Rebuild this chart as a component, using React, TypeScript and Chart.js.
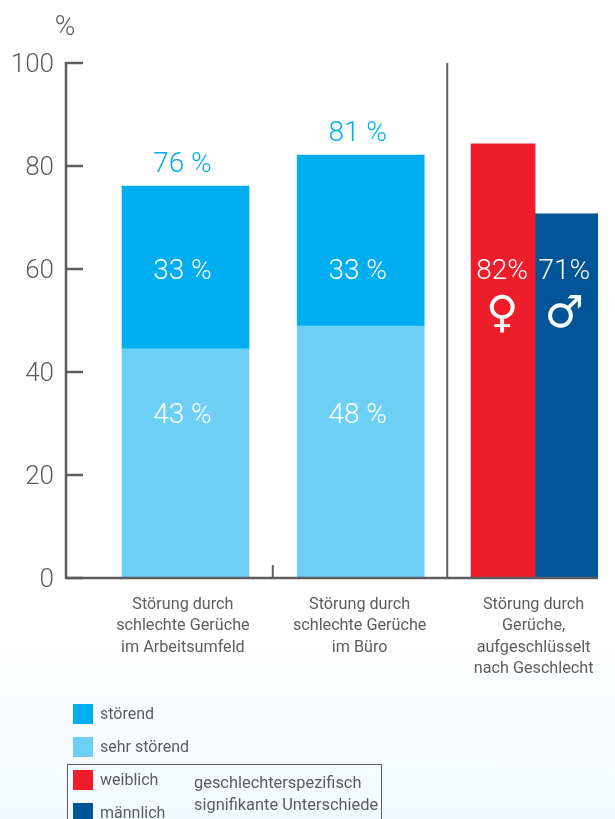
import React, { useEffect, useRef } from "react";
import { Chart, registerables } from "chart.js";

Chart.register(...registerables);

const categories = [
  ["Störung durch", "schlechte Gerüche", "im Arbeitsumfeld"],
  ["Störung durch", "schlechte Gerüche", "im Büro"],
  ["Störung durch", "Gerüche,", "aufgeschlüsselt", "nach Geschlecht"],
];
const labelSlots = [-0.015, 0.998, 1.995];
const stackSlots = [0, 1.004];
const genderSlots = [1.82, 2.177];
const sehrStoerend = [44.5, 48.9];
const stoerend = [31.6, 33.2];
const weiblich = [84.3];
const maennlich = [70.7];
const totalLabels = ["76 %", "81 %"];
const stoerendLabels = ["33 %", "33 %"];
const sehrLabels = ["43 %", "48 %"];
const genderLabels = ["82%", "71%"];
const genderSymbols = ["♀", "♂"];
const yTicks = [0, 20, 40, 60, 80, 100];
const legendNames = ["störend", "sehr störend", "weiblich", "männlich"];
const legendNote = ["geschlechterspezifisch", "signifikante Unterschiede"];
const colors = ["#00aeef", "#6dcff6", "#ef1c29", "#005596"];

const GRAY = "#5d5d5f";
const NUM_FONT = "300 28px Roboto";

const overlay = {
  id: "overlay",
  afterDatasetsDraw(chart: any) {
    const { ctx, scales } = chart;
    const x = scales.x;
    const y = scales.y;
    const base = y.getPixelForValue(0);
    const top = y.getPixelForValue(100);
    ctx.save();
    ctx.strokeStyle = GRAY;
    ctx.lineWidth = 2.5;
    const line = (a: number, b: number, c: number, d: number) => {
      ctx.beginPath();
      ctx.moveTo(a, b);
      ctx.lineTo(c, d);
      ctx.stroke();
    };
    line(x.left, top - 1, x.left, base + 1);
    line(x.left, base, x.right, base);
    yTicks.forEach((t) => line(x.left, y.getPixelForValue(t), x.left + 17, y.getPixelForValue(t)));
    ctx.lineWidth = 2;
    line(x.getPixelForValue(0.5), base - 13, x.getPixelForValue(0.5), base);
    line(x.getPixelForValue(1.5), top, x.getPixelForValue(1.5), base);

    ctx.textAlign = "center";
    ctx.textBaseline = "middle";
    ctx.font = NUM_FONT;
    stackSlots.forEach((slot, i) => {
      const cx = x.getPixelForValue(slot) - 3;
      const total = sehrStoerend[i] + stoerend[i];
      ctx.fillStyle = colors[0];
      ctx.fillText(totalLabels[i], cx, y.getPixelForValue(total) - 21);
      ctx.fillStyle = "#ffffff";
      ctx.fillText(stoerendLabels[i], cx, y.getPixelForValue(59.5));
      ctx.fillText(sehrLabels[i], cx, y.getPixelForValue(31.4));
    });
    genderSlots.forEach((slot, i) => {
      const cx = x.getPixelForValue(slot);
      ctx.fillStyle = "#ffffff";
      ctx.font = NUM_FONT;
      ctx.fillText(genderLabels[i], cx - 1, y.getPixelForValue(59.4));
      ctx.font = "bold 44px 'DejaVu Sans'";
      ctx.fillText(genderSymbols[i], cx - 1, y.getPixelForValue(51));
    });
    ctx.fillStyle = GRAY;
    ctx.font = NUM_FONT;
    ctx.fillText("%", 65, 28);
    ctx.restore();
  },
};

export default function App() {
  const ref = useRef<HTMLCanvasElement>(null);
  useEffect(() => {
    document.body.style.margin = "0";
    document.body.style.overflow = "hidden";
    const chart = new Chart(ref.current as HTMLCanvasElement, {
      type: "bar",
      data: {
        datasets: [
          {
            label: legendNames[1],
            data: stackSlots.map((s, i) => ({ x: s, y: sehrStoerend[i] })),
            backgroundColor: colors[1],
            barThickness: 127,
          },
          {
            label: legendNames[0],
            data: stackSlots.map((s, i) => ({ x: s, y: stoerend[i] })),
            backgroundColor: colors[0],
            barThickness: 127,
          },
          {
            label: legendNames[2],
            data: weiblich.map((v) => ({ x: genderSlots[0], y: v })),
            backgroundColor: colors[2],
            barThickness: 64,
          },
          {
            label: legendNames[3],
            data: maennlich.map((v) => ({ x: genderSlots[1], y: v })),
            backgroundColor: colors[3],
            barThickness: 65,
          },
        ],
      },
      options: {
        animation: false,
        responsive: false,
        layout: { padding: { top: 63, right: 17, left: 0, bottom: 0 } },
        plugins: { legend: { display: false }, tooltip: { enabled: false } },
        scales: {
          x: {
            type: "linear",
            stacked: true,
            offset: false,
            min: -0.685,
            max: 2.364,
            grid: { display: false, drawTicks: false },
            border: { display: false },
            afterBuildTicks: (s: any) => {
              s.ticks = labelSlots.map((value) => ({ value }));
            },
            afterFit: (s: any) => {
              s.height = 241;
            },
            ticks: {
              autoSkip: false,
              maxRotation: 0,
              minRotation: 0,
              padding: 16,
              color: GRAY,
              font: { family: "Roboto", size: 16.2, lineHeight: 1.33 },
              callback: (_v: any, i: number) => categories[i],
            },
          },
          y: {
            stacked: true,
            min: 0,
            max: 100,
            grid: { display: false, drawTicks: false },
            border: { display: false },
            afterBuildTicks: (s: any) => {
              s.ticks = yTicks.map((value) => ({ value }));
            },
            afterFit: (s: any) => {
              s.width = 66;
            },
            ticks: {
              padding: 12,
              labelOffset: 2,
              color: GRAY,
              font: { family: "Roboto", size: 26, weight: 300 },
            },
          },
        },
      },
      plugins: [overlay],
    } as any);
    return () => chart.destroy();
  }, []);

  const legendText: React.CSSProperties = {
    position: "absolute",
    fontFamily: "Roboto",
    fontSize: 16,
    color: GRAY,
    lineHeight: "20px",
    whiteSpace: "nowrap",
  };
  return (
    <div
      style={{
        position: "relative",
        width: 615,
        height: 819,
        overflow: "hidden",
        background: "linear-gradient(to bottom, #ffffff 0, #ffffff 640px, #f2f9fe 819px)",
      }}
    >
      <canvas ref={ref} width={615} height={819} style={{ display: "block" }} />
      {legendNames.map((name, i) => (
        <React.Fragment key={name}>
          <div
            style={{
              position: "absolute",
              left: 73,
              top: 704 + i * 33,
              width: 20,
              height: 20,
              background: colors[i],
            }}
          />
          <div style={{ ...legendText, left: 100, top: 704 + i * 33 }}>{name}</div>
        </React.Fragment>
      ))}
      <div
        style={{
          position: "absolute",
          left: 67,
          top: 764,
          width: 313,
          height: 80,
          border: `1.5px solid ${GRAY}`,
        }}
      />
      {legendNote.map((t, i) => (
        <div key={t} style={{ ...legendText, left: 194, top: 773 + i * 22, fontSize: 16.4 }}>
          {t}
        </div>
      ))}
    </div>
  );
}
